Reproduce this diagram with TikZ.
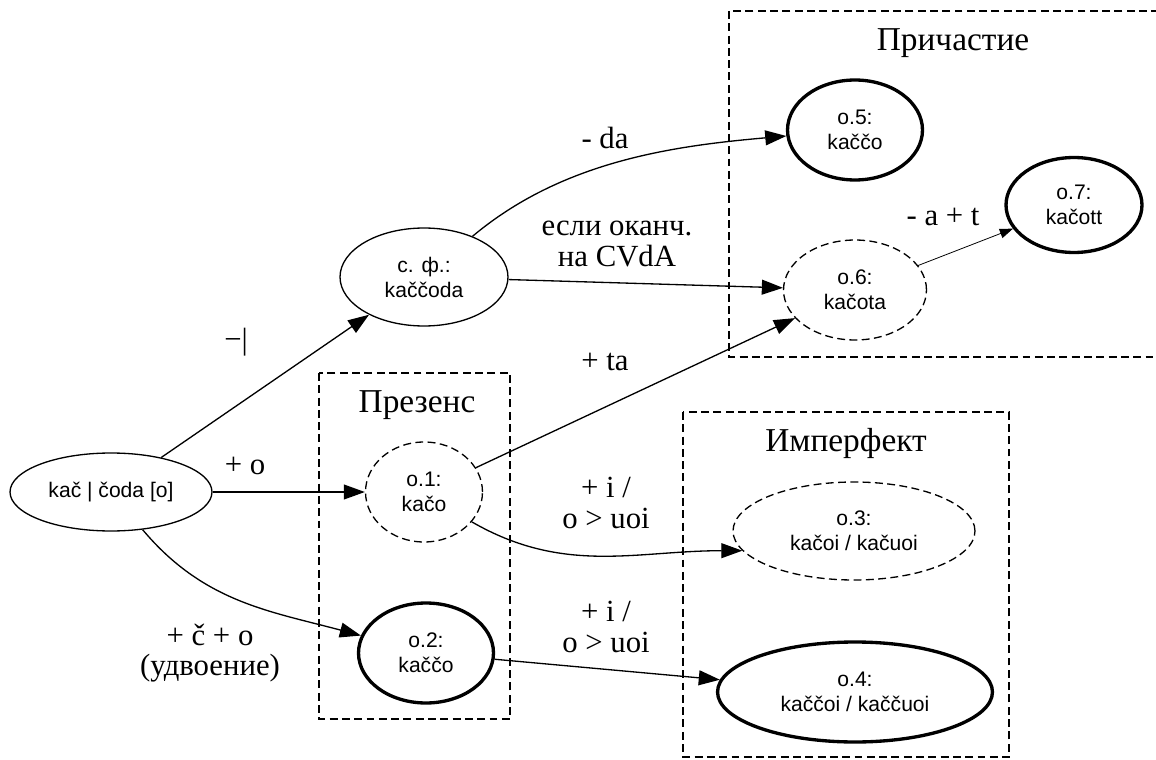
\documentclass[tikz,border=0pt]{standalone}
\usepackage{fontspec}
\setmainfont{Liberation Serif}
\newfontfamily\formfont{Liberation Sans}
\usetikzlibrary{shapes.geometric,arrows.meta}

\begin{document}
\begin{tikzpicture}[x=0.02cm, y=-0.02cm,
            every node/.style = {inner sep=0pt, align=center},
            form/.style = {ellipse, draw, line width=0.75pt, font=\formfont\fontsize{12}{14.2}\selectfont},
            guess/.style = {form, dash pattern=on 4.5pt off 2.5pt},
            final/.style = {form, line width=1.9pt},
            rule/.style = {font=\fontsize{17.5}{17.5}\selectfont},
            group/.style = {draw, line width=0.75pt, dash pattern=on 4.5pt off 2.5pt},
            title/.style = {font=\fontsize{19}{20}\selectfont},
            edge/.style = {-{Triangle[length=12pt, width=8.5pt]}, line width=0.75pt},
            thinedge/.style = {-{Triangle[length=7.5pt, width=5.5pt]}, line width=0.45pt}]
            \useasboundingbox (0,0) rectangle (1156,760);

            % groups
            \draw[group] (729,11) rectangle (1170,357);
            \draw[group] (319,373) rectangle (510,719);
            \draw[group] (683,412) rectangle (1009,757);
            \node[title] (t-part) at (953,43) {Причастие};
            \node[title] (t-pres) at (417,405) {Презенс};
            \node[title] (t-impf) at (846,443) {Имперфект};

            % forms
            \node[form, minimum width=4.04cm, minimum height=1.56cm] (root) at (111,492) {kač | čoda [o]};
            \node[form, minimum width=3.36cm, minimum height=1.96cm] (sf) at (424,277) {с. ф.:\\kaččoda};
            \node[guess, minimum width=2.34cm, minimum height=2cm] (o1) at (424,492) {o.1:\\kačo};
            \node[final, minimum width=2.7cm, minimum height=2cm] (o2) at (426,653) {o.2:\\kaččo};
            \node[guess, minimum width=4.84cm, minimum height=1.96cm] (o3) at (854,531) {o.3:\\kačoi / kačuoi};
            \node[final, minimum width=5.5cm, minimum height=2cm] (o4) at (855,692) {o.4:\\kaččoi / kaččuoi};
            \node[final, minimum width=2.7cm, minimum height=2cm] (o5) at (855,130) {o.5:\\kaččo};
            \node[guess, minimum width=2.86cm, minimum height=2cm] (o6) at (855,290) {o.6:\\kačota};
            \node[final, minimum width=2.72cm, minimum height=1.9cm] (o7) at (1074,205) {o.7:\\kačott};

            % rules
            \draw[edge] (root) -- (sf);
            \draw[edge] (root) -- (o1);
            \draw[edge] (root) to[out=-50, in=165] (o2);
            \draw[edge] (sf) to[out=40, in=185, looseness=0.9] (o5);
            \draw[edge] (sf) -- (o6);
            \draw[edge] (o1) -- (o6);
            \draw[edge] (o1.-32) to[out=-30, in=180] (o3.190);
            \draw[edge] (o2) -- (o4);
            \draw[thinedge] (o6) -- (o7);

            \node[rule] (l-root-sf) at (236,342) {−|};
            \node[rule] (l-root-o1) at (245,466) {+ o};
            \node[rule] (l-root-o2) at (210,653) {+ č + o\\(удвоение)};
            \node[rule] (l-sf-o5) at (605,138) {- da};
            \node[rule] (l-sf-o6) at (617,244) {если оканч.\\на CVdA};
            \node[rule] (l-o1-o6) at (605,362) {+ ta};
            \node[rule] (l-o1-o3) at (606,503) {+ i /\\o > uoi};
            \node[rule] (l-o2-o4) at (606,627) {+ i /\\o > uoi};
            \node[rule] (l-o6-o7) at (943,217) {- a + t};
\end{tikzpicture}
\end{document}
